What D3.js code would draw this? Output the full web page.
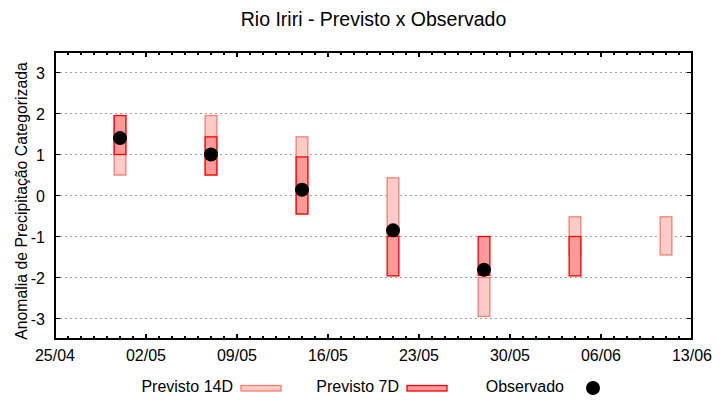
<!DOCTYPE html>
<html>
<head>
<meta charset="utf-8">
<script src="https://cdn.jsdelivr.net/npm/d3@7"></script>
<style>
  body { margin: 0; background: #fff; }
  text { font-family: "Liberation Sans", Arial, sans-serif; fill: #000; }
</style>
</head>
<body>
<script>
// dados
const datas = ["30/04", "07/05", "14/05", "21/05", "28/05", "04/06", "11/06"];
const prev14Alto = [1.95, 1.95, 1.43, 0.43, -2.0, -0.52, -0.52];
const prev14Baixo = [0.5, 0.5, -0.45, -1.0, -2.95, -1.45, -1.45];
const prev7Alto = [1.95, 1.43, 0.94, -1.0, -1.0, -1.0, null];
const prev7Baixo = [1.0, 0.5, -0.45, -1.96, -1.95, -1.96, null];
const observado = [1.4, 1.0, 0.14, -0.85, -1.81, null, null];
const xTicks = ["25/04", "02/05", "09/05", "16/05", "23/05", "30/05", "06/06", "13/06"];
const yTicks = [-3, -2, -1, 0, 1, 2, 3];

const ano = 2024;
const parse = s => d3.utcParse("%d/%m/%Y")(s + "/" + ano);
const dia = 24 * 3600 * 1000;

let width = 720, height = 400;
let m = {left: 55, right: 692, top: 52, bottom: 339};

let svg = d3.select("body").append("svg")
  .attr("width", width).attr("height", height);

let x = d3.scaleUtc()
  .domain([parse(xTicks[0]), parse(xTicks[xTicks.length - 1])])
  .range([m.left, m.right]);
let y = d3.scaleLinear().domain([-3.5, 3.5]).range([m.bottom, m.top]);

// grade
svg.append("g").selectAll("line").data(yTicks).enter().append("line")
  .attr("x1", m.left).attr("x2", m.right)
  .attr("y1", d => y(d)).attr("y2", d => y(d))
  .attr("stroke", "#a0a0a0").attr("stroke-width", 1)
  .attr("stroke-dasharray", "2,3")
  .attr("shape-rendering", "crispEdges");

const meia = 0.45 * dia;
function barras(lo, hi, fill, stroke, cls) {
  let d = datas.map((s, i) => ({t: parse(s), lo: lo[i], hi: hi[i]}))
    .filter(d => d.lo != null && d.hi != null);
  svg.append("g").selectAll("rect." + cls).data(d).enter().append("rect")
    .attr("class", cls)
    .attr("x", d => x(new Date(d.t.getTime() - meia)))
    .attr("width", d => x(new Date(d.t.getTime() + meia)) - x(new Date(d.t.getTime() - meia)))
    .attr("y", d => y(d.hi))
    .attr("height", d => y(d.lo) - y(d.hi))
    .attr("fill", fill).attr("stroke", stroke).attr("stroke-width", 1.3);
}
barras(prev14Baixo, prev14Alto, "#fdccc8", "#f4806f", "p14");
barras(prev7Baixo, prev7Alto, "#ff9a9a", "#ff0000", "p7");

svg.append("g").selectAll("circle")
  .data(datas.map((s, i) => ({t: parse(s), v: observado[i]})).filter(d => d.v != null))
  .enter().append("circle")
  .attr("cx", d => x(d.t)).attr("cy", d => y(d.v)).attr("r", 7)
  .attr("fill", "#000");

// eixos
let border = svg.append("rect")
  .attr("x", m.left).attr("y", m.top)
  .attr("width", m.right - m.left).attr("height", m.bottom - m.top)
  .attr("fill", "none").attr("stroke", "#000").attr("stroke-width", 1.3)
  .attr("shape-rendering", "crispEdges");

let diasAll = d3.utcDay.range(x.domain()[0], new Date(x.domain()[1].getTime() + 1));
let majors = xTicks.map(parse);
let isMajor = t => majors.some(mj => +mj === +t);
let tk = svg.append("g").attr("stroke", "#000").attr("stroke-width", 1.2)
  .attr("shape-rendering", "crispEdges");
diasAll.forEach(t => {
  let L = isMajor(t) ? 5 : 3;
  tk.append("line").attr("x1", x(t)).attr("x2", x(t)).attr("y1", m.bottom).attr("y2", m.bottom - L);
  tk.append("line").attr("x1", x(t)).attr("x2", x(t)).attr("y1", m.top).attr("y2", m.top + L);
});
yTicks.forEach(v => {
  tk.append("line").attr("x1", m.left).attr("x2", m.left + 5).attr("y1", y(v)).attr("y2", y(v));
  tk.append("line").attr("x1", m.right).attr("x2", m.right - 5).attr("y1", y(v)).attr("y2", y(v));
});

svg.append("g").selectAll("text").data(xTicks).enter().append("text")
  .attr("x", d => x(parse(d))).attr("y", 361)
  .attr("text-anchor", "middle").attr("font-size", 16)
  .text(d => d);
svg.append("g").selectAll("text").data(yTicks).enter().append("text")
  .attr("x", 45).attr("y", d => y(d) + 6)
  .attr("text-anchor", "end").attr("font-size", 16)
  .text(d => d);

svg.append("text").attr("x", (m.left + m.right) / 2).attr("y", 26)
  .attr("text-anchor", "middle").attr("font-size", 19.5)
  .text("Rio Iriri - Previsto x Observado");
svg.append("text")
  .attr("transform", "translate(26.5,201) rotate(-90)")
  .attr("text-anchor", "middle").attr("font-size", 15.8)
  .text("Anomalia de Precipitação Categorizada");

// legenda
let leg = svg.append("g");
leg.append("text").attr("x", 233).attr("y", 392).attr("text-anchor", "end").attr("font-size", 16).text("Previsto 14D");
leg.append("rect").attr("x", 241).attr("y", 385.5).attr("width", 40).attr("height", 5.5)
  .attr("fill", "#fdccc8").attr("stroke", "#f4806f").attr("stroke-width", 1.3);
leg.append("text").attr("x", 399).attr("y", 392).attr("text-anchor", "end").attr("font-size", 16).text("Previsto 7D");
leg.append("rect").attr("x", 407).attr("y", 385.5).attr("width", 40).attr("height", 5.5)
  .attr("fill", "#ff9a9a").attr("stroke", "#ff0000").attr("stroke-width", 1.3);
leg.append("text").attr("x", 564).attr("y", 392).attr("text-anchor", "end").attr("font-size", 16).text("Observado");
leg.append("circle").attr("cx", 593).attr("cy", 388).attr("r", 7).attr("fill", "#000");
</script>
</body>
</html>
